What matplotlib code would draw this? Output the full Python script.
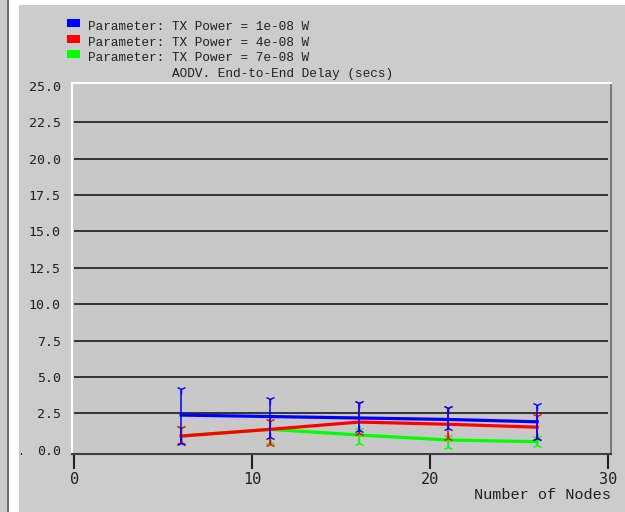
import matplotlib.pyplot as plt
from matplotlib.patches import Rectangle

# data
nodes = [6, 11, 16, 21, 26]

delay_1e8 = [2.38, 2.28, 2.18, 2.08, 1.92]
delay_4e8 = [0.94, 1.40, 1.90, 1.75, 1.55]
delay_7e8 = [0.94, 1.40, 1.01, 0.67, 0.55]

lo_1e8 = [0.48, 0.89, 1.35, 1.47, 0.80]
hi_1e8 = [4.15, 3.46, 3.19, 2.85, 3.07]
lo_4e8 = [0.55, 0.39, 1.15, 0.82, 0.82]
hi_4e8 = [1.49, 2.00, 3.20, 2.87, 2.34]
lo_7e8 = [0.55, 0.55, 0.46, 0.20, 0.32]
hi_7e8 = [1.49, 2.18, 1.35, 0.87, 0.82]

legend_labels = ["Parameter: TX Power = 1e-08 W",
                 "Parameter: TX Power = 4e-08 W",
                 "Parameter: TX Power = 7e-08 W"]
colores = ["#0000ff", "#ff0000", "#00ff00"]
titulo = "AODV. End-to-End Delay (secs)"
xlabel = "Number of Nodes"
y_ticks = [0, 2.5, 5, 7.5, 10, 12.5, 15, 17.5, 20, 22.5, 25]
x_ticks = [0, 10, 20, 30]

W, H = 625, 512
mono = "Liberation Mono"

fig = plt.figure(figsize=(W / 100, H / 100), dpi=100)
fig.patch.set_facecolor("#cccccc")

# window decoration on the left / top
fig.add_artist(Rectangle((7 / W, 0), 1.5 / W, 1, transform=fig.transFigure, color="#707070", lw=0))
fig.add_artist(Rectangle((9 / W, 0), 10 / W, 1, transform=fig.transFigure, color="white", lw=0))
fig.add_artist(Rectangle((17 / W, 1 - 5 / H), 1, 5 / H, transform=fig.transFigure, color="white", lw=0))

ax = fig.add_axes([72 / W, 1 - 453.5 / H, 539 / W, 370.5 / H])
ax.set_facecolor("#c8c8c8")
ax.set_xlim(-0.13, 30.15)
ax.set_ylim(-0.26, 25.2)

for v in y_ticks[1:-1]:
    ax.hlines(v, 0, 30, color="#1a1a1a", lw=1.2, zorder=1)

series = [
    (delay_7e8, lo_7e8, hi_7e8, colores[2]),
    (delay_4e8, lo_4e8, hi_4e8, colores[1]),
    (delay_1e8, lo_1e8, hi_1e8, colores[0]),
]
z = 2
for vals, lo, hi, c in series:
    ax.plot(nodes, vals, color=c, lw=2.3, zorder=z)
    ax.vlines(nodes, lo, hi, color=c, lw=1.1, zorder=z + 1)
    ax.plot(nodes, hi, ls="none", marker="1", ms=7, mew=1.0, color=c, zorder=z + 1)
    ax.plot(nodes, lo, ls="none", marker="2", ms=7, mew=1.0, color=c, zorder=z + 1)
    z += 2

ax.spines["left"].set_color("white")
ax.spines["top"].set_color("white")
ax.spines["right"].set_color("#7a7a7a")
ax.spines["bottom"].set_color("#404040")
for s in ax.spines.values():
    s.set_linewidth(1.5)

ax.set_yticks(y_ticks)
ax.set_yticklabels(["%.1f" % v for v in y_ticks], family="DejaVu Sans Mono", fontsize=9.5, color="#202020")
ax.tick_params(axis="y", length=0, pad=8)
ax.set_xticks(x_ticks)
ax.set_xticklabels([str(v) for v in x_ticks], family="DejaVu Sans Mono", fontsize=11, color="#202020")
ax.tick_params(axis="x", length=10.5, width=1.5, color="#202020", pad=3, direction="out")

# legend + title drawn as in the original tool
rows_y = [30, 46, 61]
for lab, c, yb in zip(legend_labels, colores, rows_y):
    fig.add_artist(Rectangle((67 / W, 1 - (yb - 3) / H), 13 / W, 8 / H,
                             transform=fig.transFigure, color=c, lw=0))
    fig.text(88 / W, 1 - yb / H, lab, family=mono, fontsize=9.2, va="baseline", ha="left", color="#202020")
fig.text(172 / W, 1 - 77 / H, titulo, family=mono, fontsize=9.2, va="baseline", ha="left", color="#202020")
fig.text(611 / W, 1 - 499 / H, xlabel, family=mono, fontsize=11, va="baseline", ha="right", color="#202020")
fig.text(21 / W, 1 - 455 / H, ".", family=mono, fontsize=8, va="baseline", ha="center", color="#202020")

fig.savefig("out.png", dpi=100, facecolor=fig.get_facecolor())
